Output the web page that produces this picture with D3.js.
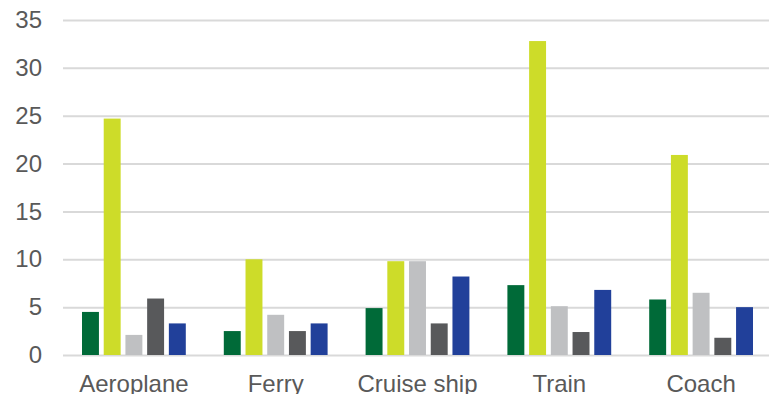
<!DOCTYPE html>
<html>
<head>
<meta charset="utf-8">
<script src="https://cdn.jsdelivr.net/npm/d3@7"></script>
<style>
  html, body { margin: 0; padding: 0; background: #ffffff; }
  svg { display: block; }
  .tick text { font-family: "Liberation Sans", Arial, sans-serif; fill: #595959; }
</style>
</head>
<body>
<svg id="chart" width="769" height="394"></svg>
<script>
// Transport modes along the x axis
const categories = ["Aeroplane", "Ferry", "Cruise ship", "Train", "Coach"];

// Five series, one value per transport mode
const seriesA = [4.5, 2.5, 4.9, 7.3, 5.8];     // dark green
const seriesB = [24.7, 10.0, 9.8, 32.8, 20.9]; // lime
const seriesC = [2.1, 4.2, 9.8, 5.1, 6.5];     // light grey
const seriesD = [5.9, 2.5, 3.3, 2.4, 1.8];     // dark grey
const seriesE = [3.3, 3.3, 8.2, 6.8, 5.0];     // blue

const seriesList = [seriesA, seriesB, seriesC, seriesD, seriesE];
const seriesColors = ["#006a38", "#cddc29", "#bfc0c2", "#58595b", "#21409a"];

// Y axis ticks
const yTicks = [0, 5, 10, 15, 20, 25, 30, 35];

const svg = d3.select("#chart");
const margin = { left: 63, right: -3, top: 20, bottom: 39 };
const W = 769, H = 394;
const plotRight = W - margin.right;
const plotBottom = H - margin.bottom;

const x0 = d3.scaleBand()
  .domain(categories)
  .range([margin.left, plotRight])
  .paddingInner(0.268)
  .paddingOuter(0.134);

const x1 = d3.scaleBand()
  .domain(d3.range(seriesList.length))
  .range([0, x0.bandwidth()])
  .paddingInner(0.22)
  .paddingOuter(0);

const y = d3.scaleLinear()
  .domain([0, 35])
  .range([plotBottom, margin.top]);

// Horizontal gridlines with tick labels
const yAxis = svg.append("g")
  .attr("transform", `translate(${margin.left},0)`)
  .call(d3.axisLeft(y)
    .tickValues(yTicks)
    .tickSize(-(W - margin.left))
    .tickPadding(21)
    .tickFormat(d3.format("d")));
yAxis.select(".domain").remove();
yAxis.selectAll(".tick line").attr("stroke", "#d9d9d9").attr("stroke-width", 2);
yAxis.selectAll(".tick text").attr("font-size", 24);

// Bars
const groups = svg.append("g")
  .selectAll("g")
  .data(categories)
  .join("g")
  .attr("transform", d => `translate(${x0(d)},0)`);

groups.selectAll("rect")
  .data((cat, ci) => seriesList.map((s, si) => ({ si, v: s[ci] })))
  .join("rect")
  .attr("x", d => x1(d.si))
  .attr("width", x1.bandwidth())
  .attr("y", d => y(d.v))
  .attr("height", d => y(0) - y(d.v))
  .attr("fill", d => seriesColors[d.si]);

// Category labels
const xAxis = svg.append("g")
  .attr("transform", `translate(0,${plotBottom})`)
  .call(d3.axisBottom(x0).tickSize(0).tickPadding(20));
xAxis.select(".domain").remove();
xAxis.selectAll(".tick text").attr("font-size", 24);
</script>
</body>
</html>
